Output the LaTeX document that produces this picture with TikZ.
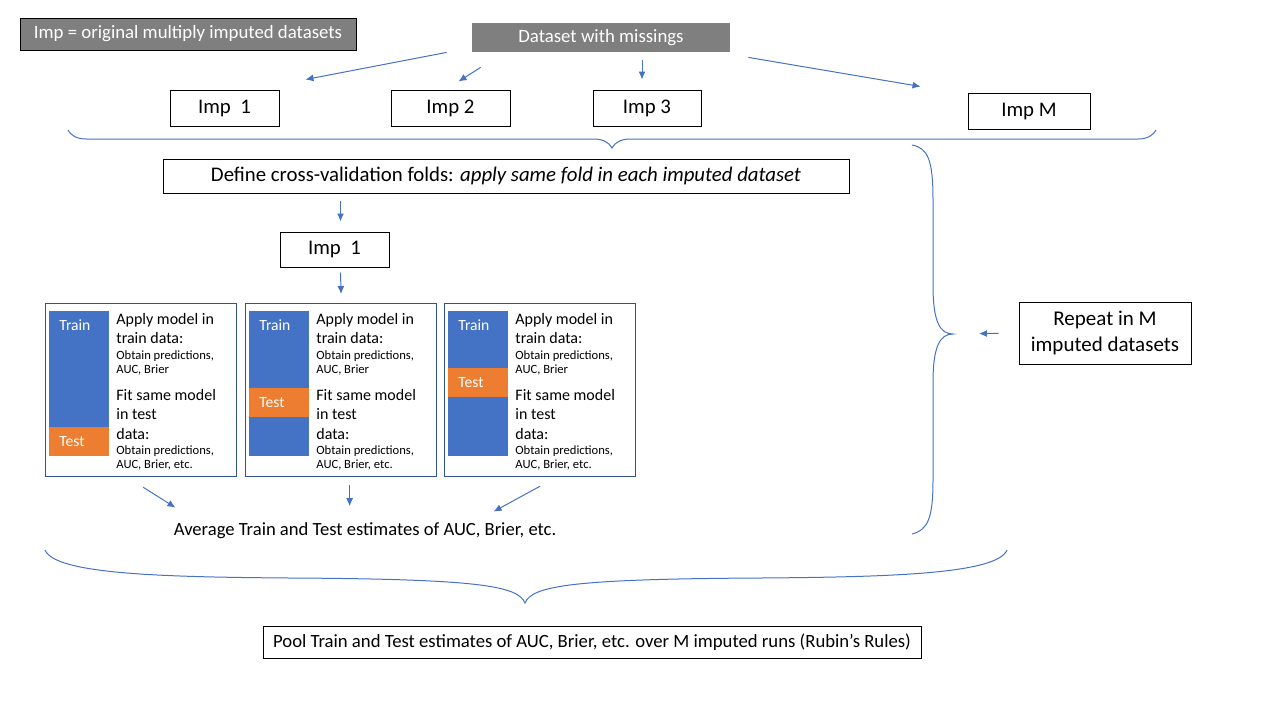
\documentclass[tikz,border=0pt]{standalone}
\usepackage{fontspec}
\setmainfont{Carlito}
\usetikzlibrary{positioning,calc,decorations.pathreplacing,arrows.meta}
\definecolor{ppblue}{HTML}{4472C4}
\definecolor{pporange}{HTML}{ED7D31}
\definecolor{ppdark}{HTML}{2F528F}
\definecolor{ppgray}{HTML}{7F7F7F}
\newcommand\fs[2]{\fontsize{#1}{#2}\selectfont}
\begin{document}
\begin{tikzpicture}[x=0.5pt,y=-0.5pt,>={Latex[length=4pt,width=3.5pt]},
    box/.style={draw,line width=0.5pt,inner sep=0pt,font=\fs{10.4}{12}},
    graybox/.style={fill=ppgray,text=white,inner sep=0pt,font=\fs{9.4}{11}},
    arr/.style={->,ppblue,line width=0.5pt},
    brc/.style={ppblue,line width=0.5pt},
    foldbox/.style={draw=ppdark,line width=0.6pt,minimum width=95.5pt,minimum height=86.5pt,inner sep=0pt},
    big/.style={inner sep=0pt,anchor=north west,align=left,font=\fs{8}{9.7}},
    small/.style={inner sep=0pt,anchor=north west,align=left,font=\fs{6.3}{7}},
    lbl/.style={inner sep=0pt,anchor=west,text=white,font=\fs{7.8}{9}}]
    \useasboundingbox (0,0) rectangle (1280,720);
    % top row
    \node[graybox,draw=black,line width=0.5pt,minimum width=168pt,minimum height=16pt] (legend) at (188,34) {Imp = original multiply imputed datasets};
    \node[graybox,minimum width=129pt,minimum height=14.5pt] (data) at (601,37.5) {Dataset with missings};
    \node[box,minimum width=54.5pt,minimum height=18pt] (imp1) at (224.5,108) {Imp\ \ 1};
    \node[box,minimum width=59.5pt,minimum height=18pt] (imp2) at (450.5,108) {Imp 2};
    \node[box,minimum width=54pt,minimum height=18pt] (imp3) at (647,108) {Imp 3};
    \node[box,minimum width=61pt,minimum height=18pt] (impM) at (1029,111) {Imp M};
    \draw[arr] ($(data.south west)+(-25,0)$) -- ($(imp1.north east)+(26,-10)$);
    \draw[arr] ($(data.south west)+(9,15)$) -- ($(imp2.north)+(8,-8)$);
    \draw[arr] ($(imp3.north)+(-5,-30)$) -- ($(imp3.north)+(-5,-10)$);
    \draw[arr] ($(data.south east)+(18,5)$) -- ($(impM.north west)+(-47,-6)$);
    \draw[brc,decorate,decoration={brace,amplitude=9pt}] (1156,130) -- (68,130);
    % folds
    \node[box,minimum width=343pt,minimum height=17pt] (define) at (506,176) {Define cross-validation folds: \textit{apply same fold in each imputed dataset}};
    \node[box,minimum width=54.5pt,minimum height=17.5pt] (impb) at (334.5,249.5) {Imp\ \ 1};
    \foreach \i/\bx/\ot in {1/45/427,2/245/388,3/444/368}{
        \node[foldbox,anchor=north west] (fold\i) at (\bx,303) {};
        \fill[ppblue] (\bx+4,311) rectangle (\bx+64,456);
        \fill[pporange] (\bx+4,\ot) rectangle (\bx+64,\ot+29);
        \node[lbl] (train\i) at (\bx+14,325) {Train};
        \node[lbl] (test\i) at (\bx+14,\ot+15) {Test};
        \node[big] (apply\i) at (\bx+71,313) {Apply model in\\train data:};
        \node[small] (obt\i) at (\bx+71,350) {Obtain predictions,\\AUC, Brier};
        \node[big] (fit\i) at (\bx+71,389) {Fit same model\\in test\\data:};
        \node[small] (obtb\i) at (\bx+71,445) {Obtain predictions,\\AUC, Brier, etc.};
    }
    \draw[arr] ($(impb.north)+(6,-31)$) -- ($(impb.north)+(6,-10)$);
    \draw[arr] ($(impb.south)+(6,5)$) -- ($(fold2.north)+(0,-9)$);
    \node[inner sep=0pt,font=\fs{9.3}{11}] (avg) at (365,531) {Average Train and Test estimates of AUC, Brier, etc.};
    \draw[arr] ($(fold1.south)+(2,10)$) -- ($(avg.north west)+(2,-15)$);
    \draw[arr] ($(fold2.south)+(8.5,8)$) -- ($(fold2.south)+(8.5,29)$);
    \draw[arr] ($(fold3.south)+(0,9)$) -- ($(avg.north east)+(-63,-11)$);
    % repeat brace
    \coordinate (rtip) at (953,334);
    \draw[brc] (912,145) .. controls (928,148) and (933,160) .. (933,200) -- (933,285) .. controls (933,322) and (940,334) .. (rtip) .. controls (940,334) and (933,346) .. (933,383) -- (933,480) .. controls (933,518) and (928,530) .. (912,534);
    \node[box,minimum width=86pt,minimum height=31pt,align=center,font=\fs{10.5}{13}] (repeat) at (1105,333) {Repeat in M\\imputed datasets};
    \draw[arr,shorten <=10pt,shorten >=13pt] (repeat.west) -- (rtip);
    % pooling
    \draw[brc] (45,550) .. controls (55,574) and (160,577) .. (290,578) .. controls (480,579) and (518,586) .. (525,603) .. controls (532,586) and (570,579) .. (760,578) .. controls (890,577) and (997,574) .. (1007,550);
    \node[box,minimum width=329pt,minimum height=16pt,font=\fs{9.35}{11}] (pool) at (592,642) {Pool Train and Test estimates of AUC, Brier, etc. over M imputed runs (Rubin’s Rules)};
\end{tikzpicture}
\end{document}
